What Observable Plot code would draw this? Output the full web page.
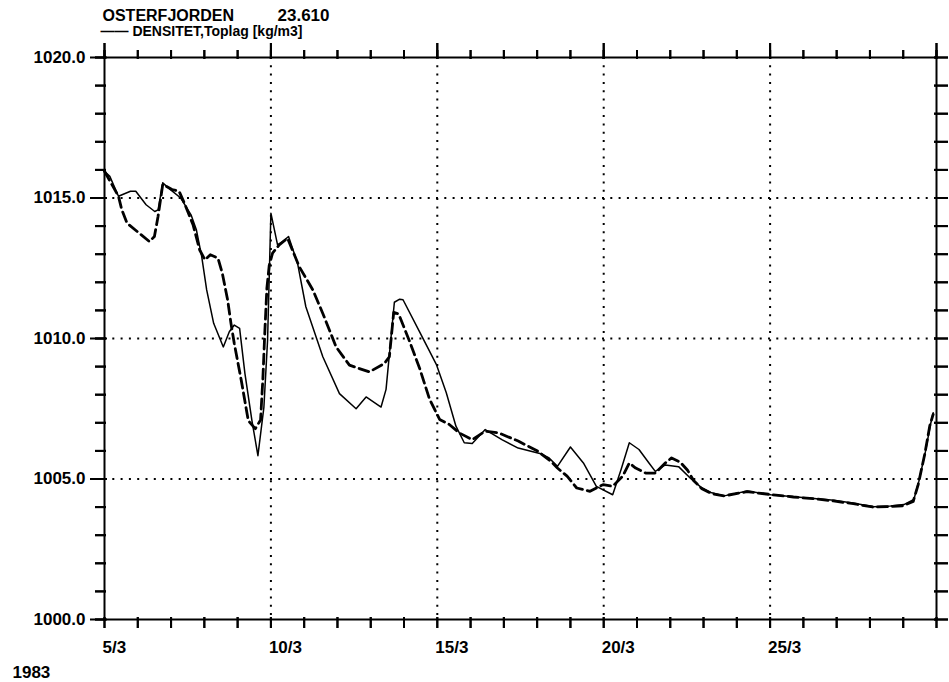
<!DOCTYPE html>
<html>
<head>
<meta charset="utf-8">
<script src="https://cdn.jsdelivr.net/npm/d3@7"></script>
<script src="https://cdn.jsdelivr.net/npm/@observablehq/plot@0.6"></script>
<style>
  body { margin: 0; background: #fff; }
</style>
</head>
<body>
<div id="chart"></div>
<script>
// ---- data (day of March 1983, density kg/m3) ----
const solidDay = [5.00, 5.16, 5.42, 5.78, 5.94, 6.25, 6.51, 6.61, 6.75, 6.98, 7.29, 7.60, 7.76, 7.92, 8.07, 8.28, 8.57, 8.75, 8.90, 9.06,
  9.22, 9.43, 9.61, 9.79, 9.90, 10.00, 10.20, 10.35, 10.53, 10.80, 11.05, 11.56, 12.06, 12.56, 12.86, 13.31, 13.46, 13.71, 13.87, 13.97,
  14.48, 14.97, 15.27, 15.56, 15.81, 16.05, 16.44, 16.94, 17.43, 18.11, 18.36, 18.61, 19.00, 19.39, 19.78, 20.27, 20.52, 20.77, 21.06, 21.36,
  21.55, 21.85, 22.25, 22.62, 22.92, 23.22, 23.62, 24.32, 25.02, 25.72, 26.32, 26.92, 27.52, 28.12, 28.62, 29.02, 29.32, 29.47, 29.67, 29.82, 29.90];
const solidValue = [1015.95, 1015.77, 1015.06, 1015.24, 1015.24, 1014.76, 1014.52, 1014.58, 1015.54, 1015.30, 1015.00, 1014.40, 1013.87, 1012.92, 1011.73, 1010.54, 1009.70, 1010.24, 1010.48, 1010.36,
  1008.75, 1007.08, 1005.83, 1007.56, 1009.94, 1014.46, 1013.33, 1013.45, 1013.63, 1012.68, 1011.13, 1009.35, 1008.04, 1007.50, 1007.92, 1007.56, 1008.19, 1011.29, 1011.40, 1011.38,
  1010.21, 1009.08, 1008.07, 1006.88, 1006.29, 1006.26, 1006.76, 1006.40, 1006.10, 1005.90, 1005.75, 1005.45, 1006.14, 1005.57, 1004.74, 1004.44, 1005.33, 1006.29, 1006.05, 1005.57,
  1005.27, 1005.50, 1005.44, 1005.01, 1004.71, 1004.52, 1004.40, 1004.57, 1004.44, 1004.37, 1004.31, 1004.24, 1004.14, 1004.01, 1004.04, 1004.09, 1004.27, 1004.92, 1005.99, 1006.94, 1007.36];

const dashDay = [5.00, 5.42, 5.52, 5.68, 5.99, 6.35, 6.50, 6.61, 6.75, 7.03, 7.24, 7.40, 7.66, 7.86, 8.02, 8.18, 8.41, 8.54, 8.70, 8.80,
  8.90, 9.11, 9.32, 9.53, 9.69, 9.76, 9.82, 9.88, 9.95, 10.05, 10.25, 10.50, 10.85, 11.26, 11.56, 11.96, 12.36, 12.66, 12.96, 13.41,
  13.56, 13.69, 13.84, 14.18, 14.48, 14.77, 15.07, 15.36, 15.66, 16.05, 16.44, 16.84, 17.43, 18.02, 18.41, 18.61, 18.90, 19.19, 19.59, 19.98,
  20.27, 20.57, 20.77, 20.96, 21.26, 21.55, 21.85, 22.04, 22.30, 22.52, 22.70, 22.95, 23.25, 23.62, 24.30, 25.00, 25.70, 26.30, 26.90, 27.50,
  28.10, 28.60, 29.00, 29.30, 29.45, 29.65, 29.80, 29.90];
const dashValue = [1015.95, 1015.06, 1014.58, 1014.10, 1013.80, 1013.45, 1013.63, 1014.35, 1015.48, 1015.30, 1015.24, 1014.82, 1014.05, 1013.15, 1012.80, 1012.98, 1012.86, 1012.32, 1011.37, 1010.54,
  1009.82, 1008.51, 1007.08, 1006.79, 1007.10, 1008.60, 1010.30, 1011.80, 1012.60, 1013.04, 1013.33, 1013.57, 1012.56, 1011.73, 1010.89, 1009.70, 1009.05, 1008.93, 1008.81, 1009.11,
  1009.35, 1010.93, 1010.87, 1009.86, 1008.90, 1007.83, 1007.12, 1006.94, 1006.64, 1006.40, 1006.70, 1006.64, 1006.35, 1005.99, 1005.63, 1005.39, 1005.10, 1004.68, 1004.56, 1004.80,
  1004.74, 1005.10, 1005.57, 1005.39, 1005.21, 1005.21, 1005.57, 1005.75, 1005.60, 1005.31, 1004.95, 1004.65, 1004.48, 1004.40, 1004.55, 1004.45, 1004.36, 1004.30, 1004.22, 1004.12,
  1004.00, 1004.02, 1004.05, 1004.20, 1004.80, 1005.90, 1006.90, 1007.30];

const yLabelValues = [1000, 1005, 1010, 1015, 1020];
const yMinorValues = [1000, 1001, 1002, 1003, 1004, 1005, 1006, 1007, 1008, 1009, 1010, 1011, 1012, 1013, 1014, 1015, 1016, 1017, 1018, 1019, 1020];
const yGridValues = [1005, 1010, 1015];
const xLabelDays = [5, 10, 15, 20, 25];
const xMinorDays = [5, 6, 7, 8, 9, 10, 11, 12, 13, 14, 15, 16, 17, 18, 19, 20, 21, 22, 23, 24, 25, 26, 27, 28, 29, 30];
const xMajorDays = [5, 10, 15, 20, 25, 30];
const xGridDays = [10, 15, 20, 25];
const titleText = ["OSTERFJORDEN"];
const stationText = ["23.610"];
const legendText = ["—— DENSITET,Toplag [kg/m3]"];
const yearText = ["1983"];

// ---- build ----
const W = 949, H = 682, ML = 104, MR = 13, MT = 57, MB = 63;
const IW = W - ML - MR, IH = H - MT - MB;
const toDate = d => new Date(Date.UTC(1983, 2, 1) + (d - 1) * 864e5);
const solid = solidDay.map((d, i) => ({date: toDate(d), value: solidValue[i]}));
const dashed = dashDay.map((d, i) => ({date: toDate(d), value: dashValue[i]}));
const ink = {stroke: "#000", strokeWidth: 2};
const txt = {text: d => d, fill: "#000", textAnchor: "start", lineAnchor: "bottom"};
const dayPx = IW / 25, unitPx = IH / 20;

const chart = Plot.plot({
  width: W,
  height: H,
  marginLeft: ML,
  marginRight: MR,
  marginTop: MT,
  marginBottom: MB,
  style: {fontFamily: '"Liberation Sans", Arial, sans-serif', fontSize: "17px", fontWeight: "bold", color: "#000", background: "#fff"},
  x: {type: "utc", domain: [toDate(5), toDate(30)]},
  y: {domain: [1000, 1020]},
  marks: [
    Plot.ruleY(yGridValues, {stroke: "#000", strokeWidth: 2, strokeDasharray: "2,6.3"}),
    Plot.ruleX(xGridDays.map(toDate), {stroke: "#000", strokeWidth: 2, strokeDasharray: "2,6.3"}),
    Plot.frame({stroke: "#000", strokeWidth: 2}),
    // left ticks (outward, crossing the axis line)
    Plot.tickY(yMinorValues, {y: d => d, insetLeft: -9, insetRight: IW - 2, ...ink}),
    Plot.tickY(yLabelValues, {y: d => d, insetLeft: -14, insetRight: IW - 3, ...ink}),
    Plot.ruleY(yMinorValues, {y: d => d, x1: () => toDate(5 - 9 / dayPx), x2: () => toDate(5 + 2 / dayPx), ...ink}),
    // right ticks
    Plot.tickY(yMinorValues, {y: d => d, insetLeft: IW - 2, insetRight: -12, ...ink}),
    Plot.ruleY(yMinorValues, {y: d => d, x1: () => toDate(30 - 2 / dayPx), x2: () => toDate(30 + 12 / dayPx), ...ink}),
    // bottom ticks
    Plot.tickX(xMinorDays.map(toDate), {x: d => d, insetTop: IH - 2, insetBottom: -9, ...ink}),
    Plot.ruleX(xMinorDays.map(toDate), {x: d => d, y1: () => 1000 - 9 / unitPx, y2: () => 1000 + 2 / unitPx, ...ink}),
    // top ticks, longer every 5 days
    Plot.tickX(xMinorDays.map(toDate), {x: d => d, insetTop: -7, insetBottom: IH - 2, ...ink}),
    Plot.tickX(xMajorDays.map(toDate), {x: d => d, insetTop: -14, insetBottom: IH - 2, ...ink}),
    Plot.ruleX(xMinorDays.map(toDate), {x: d => d, y1: () => 1020 - 2 / unitPx, y2: () => 1020 + 7 / unitPx, ...ink}),
    Plot.ruleX(xMajorDays.map(toDate), {x: d => d, y1: () => 1020 - 2 / unitPx, y2: () => 1020 + 14 / unitPx, ...ink}),
    // tick labels
    Plot.axisY({anchor: "left", ticks: yLabelValues, tickSize: 0, tickPadding: 19, tickFormat: d => d.toFixed(1), label: null}),
    Plot.axisX({anchor: "bottom", ticks: xLabelDays.map(toDate), tickSize: 0, tickPadding: 21, textAnchor: "start", dx: -2,
      tickFormat: d => `${d.getUTCDate()}/3`, label: null}),
    // titles
    Plot.text(titleText, {...txt, frameAnchor: "top-left", dx: -2, dy: -37, fontSize: 16}),
    Plot.text(stationText, {...txt, frameAnchor: "top-left", dx: 173, dy: -37, fontSize: 17}),
    Plot.text(legendText, {...txt, frameAnchor: "top-left", dx: -4, dy: -22, fontSize: 14}),
    Plot.text(yearText, {...txt, frameAnchor: "bottom-left", dx: -92, dy: 58, fontSize: 17}),
    // data
    Plot.line(solid, {x: "date", y: "value", stroke: "#000", strokeWidth: 1.5}),
    Plot.line(dashed, {x: "date", y: "value", stroke: "#000", strokeWidth: 2.8, strokeDasharray: "10,5"})
  ]
});
document.getElementById("chart").appendChild(chart);
</script>
</body>
</html>
